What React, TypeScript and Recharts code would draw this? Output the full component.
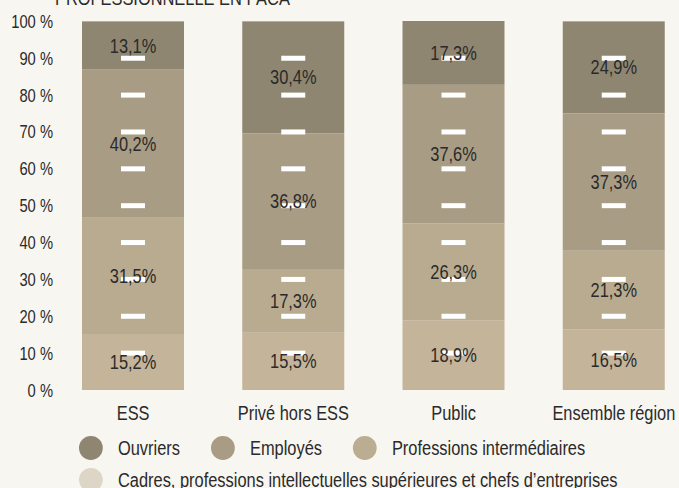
import React from 'react';
import { BarChart, Bar, XAxis, YAxis, LabelList } from 'recharts';

const categories = ['ESS', 'Privé hors ESS', 'Public', 'Ensemble région'];
const cadres = [15.2, 15.5, 18.9, 16.5];
const intermediaires = [31.5, 17.3, 26.3, 21.3];
const employes = [40.2, 36.8, 37.6, 37.3];
const ouvriers = [13.1, 30.4, 17.3, 24.9];
const yTicks = [0, 10, 20, 30, 40, 50, 60, 70, 80, 90, 100];
const dashTicks = [10, 20, 30, 40, 50, 60, 70, 80, 90];

const legendItems = [
  { label: 'Ouvriers', color: '#8f8671' },
  { label: 'Employés', color: '#a89c84' },
  { label: 'Professions intermédiaires', color: '#bbad91' },
  { label: 'Cadres, professions intellectuelles supérieures et chefs d\u2019entreprises', color: '#ddd5c5' },
];

const data = categories.map((name, i) => ({
  name,
  cadres: cadres[i],
  intermediaires: intermediaires[i],
  employes: employes[i],
  ouvriers: ouvriers[i],
}));

// no narrow face installed: squeeze Liberation Sans horizontally instead
const FONT = "'Liberation Sans', Arial, sans-serif";
const SQUEEZE = 0.82;
const TEXT = '#2a2a2a';

const fmt = (v: any) => `${Number(v).toFixed(1).replace('.', ',')}%`;

const NarrowText = ({ x, y, size, anchor, children }: any) => (
  <text
    transform={`translate(${x},${y}) scale(${SQUEEZE},1)`}
    textAnchor={anchor}
    fontSize={size}
    fontFamily={FONT}
    fill={TEXT}
  >
    {children}
  </text>
);

const XTick = (p: any) => (
  <NarrowText x={p.x} y={p.y + 22} size={20} anchor="middle">
    {p.payload.value}
  </NarrowText>
);

const YTick = (p: any) => (
  <NarrowText x={p.x} y={p.y + 6.5} size={18} anchor="end">
    {`${p.payload.value} %`}
  </NarrowText>
);

const SegmentLabel = (p: any) => (
  <NarrowText x={p.x + p.width / 2} y={p.y + p.height / 2 + 7} size={20} anchor="middle">
    {fmt(p.value)}
  </NarrowText>
);

// top segment: draws its rect, then the white dashes over the whole column
const TopShape = (props: any) => {
  const { x, y, width, height, fill, payload } = props;
  const lo = payload.cadres + payload.intermediaires + payload.employes;
  const hi = lo + payload.ouvriers;
  const k = height / (hi - lo);
  const zeroY = y + height + lo * k;
  const cx = x + width / 2;
  return (
    <g>
      <rect x={x} y={y} width={width} height={height} fill={fill} />
      {dashTicks.map((t) => (
        <rect key={t} x={cx - 12} y={zeroY - t * k - 2.5} width={24} height={5} fill="#ffffff" />
      ))}
    </g>
  );
};

const App: React.FC = () => {
  const u = (px: number) => px / SQUEEZE;
  return (
    <div
      style={{
        position: 'fixed',
        left: 0,
        top: 0,
        width: 679,
        height: 488,
        background: '#f8f6f1',
        overflow: 'hidden',
        fontFamily: FONT,
        color: TEXT,
      }}
    >
      <div
        style={{
          position: 'absolute',
          left: 55,
          top: -12,
          fontSize: 20,
          lineHeight: '20px',
          whiteSpace: 'nowrap',
          transform: `scaleX(${SQUEEZE})`,
          transformOrigin: 'left top',
        }}
      >
        PROFESSIONNELLE EN PACA
      </div>
      <BarChart
        width={679}
        height={488}
        data={data}
        margin={{ top: 21, right: -15, bottom: 68, left: 0 }}
        barCategoryGap={29}
      >
        <XAxis dataKey="name" axisLine={false} tickLine={false} interval={0} tick={(p: any) => <XTick {...p} />} />
        <YAxis
          width={53}
          domain={[0, 100]}
          ticks={yTicks}
          axisLine={false}
          tickLine={false}
          tickSize={0}
          tickMargin={0}
          tick={(p: any) => <YTick {...p} />}
        />
        <Bar dataKey="cadres" stackId="a" fill="#c4b49a" isAnimationActive={false}>
          <LabelList dataKey="cadres" content={(p: any) => <SegmentLabel {...p} />} />
        </Bar>
        <Bar dataKey="intermediaires" stackId="a" fill="#b9ab90" isAnimationActive={false}>
          <LabelList dataKey="intermediaires" content={(p: any) => <SegmentLabel {...p} />} />
        </Bar>
        <Bar dataKey="employes" stackId="a" fill="#a89c84" isAnimationActive={false}>
          <LabelList dataKey="employes" content={(p: any) => <SegmentLabel {...p} />} />
        </Bar>
        <Bar dataKey="ouvriers" stackId="a" fill="#8f8671" isAnimationActive={false} shape={(p: any) => <TopShape {...p} />}>
          <LabelList dataKey="ouvriers" content={(p: any) => <SegmentLabel {...p} />} />
        </Bar>
      </BarChart>
      <div
        style={{
          position: 'absolute',
          left: 79,
          top: 436,
          width: u(590),
          display: 'flex',
          flexWrap: 'wrap',
          rowGap: 8,
          fontSize: 20,
          transform: `scaleX(${SQUEEZE})`,
          transformOrigin: 'left top',
        }}
      >
        {legendItems.map((it) => (
          <div key={it.label} style={{ display: 'flex', alignItems: 'center', height: 24, marginRight: u(31), whiteSpace: 'nowrap' }}>
            <span
              style={{ width: u(24), height: 24, borderRadius: '50%', background: it.color, marginRight: u(15), flexShrink: 0 }}
            />
            <span style={{ lineHeight: '24px' }}>{it.label}</span>
          </div>
        ))}
      </div>
    </div>
  );
};

export default App;
